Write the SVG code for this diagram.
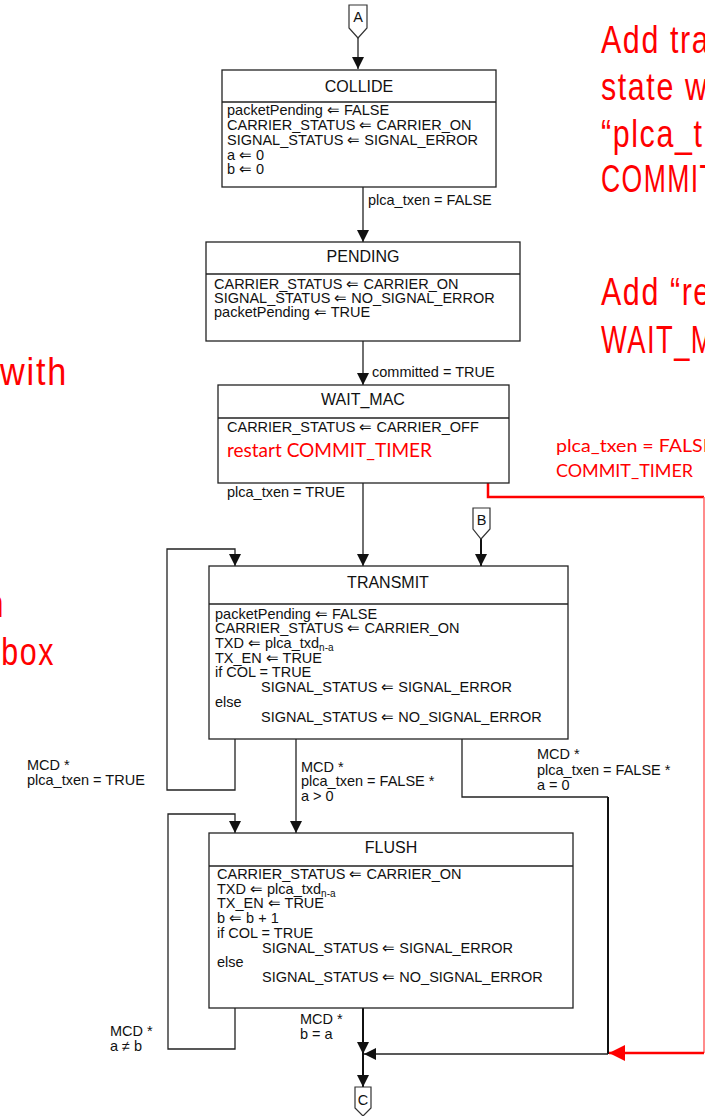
<svg xmlns="http://www.w3.org/2000/svg" width="705" height="1116" viewBox="0 0 705 1116">
<style>
.box{fill:#fff;stroke:#222;stroke-width:1.3}
.div{stroke:#222;stroke-width:1.3}
.t{font-family:"Liberation Sans",Arial,sans-serif;font-size:14.5px;fill:#111}
.ti{font-family:"Liberation Sans",Arial,sans-serif;font-size:16px;fill:#111;text-anchor:middle}
.ln{fill:none;stroke:#222;stroke-width:1.3}
.thk{fill:none;stroke:#111;stroke-width:2}
.red{fill:none;stroke:#f00;stroke-width:2.5}
.rt{font-family:Lato,"Open Sans",sans-serif;fill:#f00}
.big{font-family:"Liberation Sans",Arial,sans-serif;font-size:38px;fill:#f00;letter-spacing:2px}
.conn{fill:#fff;stroke:#333;stroke-width:1.2}
.sub{font-size:10px}
</style>
<defs>
<marker id="arr" viewBox="0 0 12 12" refX="12" refY="6" markerWidth="12" markerHeight="12" markerUnits="userSpaceOnUse" orient="auto"><path d="M0,0 L12,6 L0,12 z" fill="#111"/></marker>
<marker id="rarr" viewBox="0 0 16 16" refX="16" refY="8" markerWidth="16" markerHeight="16" markerUnits="userSpaceOnUse" orient="auto"><path d="M0,0 L16,8 L0,16 z" fill="#f00"/></marker>
</defs>

<g id="connectors">
<path class="ln" d="M358,38 V69" marker-end="url(#arr)"/>
<path class="ln" d="M363,187 V242" marker-end="url(#arr)"/>
<path class="ln" d="M363,341 V385" marker-end="url(#arr)"/>
<path class="ln" d="M363,483 V566" marker-end="url(#arr)"/>
<path class="thk" d="M481,539 V566" marker-end="url(#arr)"/>
<path class="ln" d="M235,738 V790 H167 V549 H235 V566" marker-end="url(#arr)"/>
<path class="ln" d="M296,738 V833" marker-end="url(#arr)"/>
<path class="ln" d="M462,738 V797 H608"/>
<path class="thk" d="M608,797 V1054"/>
<path class="ln" d="M608,1054 H364" marker-end="url(#arr)"/>
<path class="ln" d="M235,1008 V1049 H168 V814 H235 V833" marker-end="url(#arr)"/>
<path class="thk" d="M363,1008 V1054" marker-end="url(#arr)"/>
<path class="thk" d="M363,1054 V1087" marker-end="url(#arr)"/>
<path class="red" d="M488,483 V497 H704"/>
<path fill="none" stroke="#f66" stroke-width="1.5" d="M704,497 V1053"/>
<path class="red" d="M704,1053 H609" marker-end="url(#rarr)"/>
</g>

<g id="labels">
<text class="t" x="368" y="205">plca_txen = FALSE</text>
<text class="t" x="372" y="377">committed = TRUE</text>
<text class="t" x="227" y="497">plca_txen = TRUE</text>
<text class="t" x="27" y="770">MCD *</text>
<text class="t" x="27" y="785">plca_txen = TRUE</text>
<text class="t" x="301" y="772">MCD *</text>
<text class="t" x="301" y="786">plca_txen = FALSE *</text>
<text class="t" x="301" y="801">a &gt; 0</text>
<text class="t" x="537" y="759">MCD *</text>
<text class="t" x="537" y="775">plca_txen = FALSE *</text>
<text class="t" x="537" y="790">a = 0</text>
<text class="t" x="110" y="1036">MCD *</text>
<text class="t" x="110" y="1051">a ≠ b</text>
<text class="t" x="300" y="1024">MCD *</text>
<text class="t" x="300" y="1039">b = a</text>
<text class="rt" x="556" y="452" font-size="17" textLength="158" lengthAdjust="spacingAndGlyphs">plca_txen = FALSE</text>
<text class="rt" x="556" y="477" font-size="17" textLength="137" lengthAdjust="spacingAndGlyphs">COMMIT_TIMER</text>
</g>

<g id="connA">
<path class="conn" d="M349,5 H367 V28 L358,38 L349,28 Z"/>
<text class="t" x="358" y="22" text-anchor="middle">A</text>
</g>
<g id="connB">
<path class="conn" d="M473,508 H490 V529 L481,539 L473,529 Z"/>
<text class="t" x="481.5" y="525" text-anchor="middle">B</text>
</g>
<g id="connC">
<path class="conn" d="M355,1087 H371 V1108 L363,1116 L355,1108 Z"/>
<text class="t" x="363" y="1105" text-anchor="middle">C</text>
</g>

<g id="COLLIDE">
<rect class="box" x="222" y="70" width="274" height="117"/>
<line class="div" x1="222" y1="102" x2="496" y2="102"/>
<text class="ti" x="359" y="92">COLLIDE</text>
<text class="t" x="227" y="115">packetPending ⇐ FALSE</text>
<text class="t" x="227" y="130">CARRIER_STATUS ⇐ CARRIER_ON</text>
<text class="t" x="227" y="145">SIGNAL_STATUS ⇐ SIGNAL_ERROR</text>
<text class="t" x="227" y="160">a ⇐ 0</text>
<text class="t" x="227" y="174">b ⇐ 0</text>
</g>

<g id="PENDING">
<rect class="box" x="206" y="242" width="314" height="99"/>
<line class="div" x1="206" y1="274" x2="520" y2="274"/>
<text class="ti" x="363" y="262">PENDING</text>
<text class="t" x="214" y="289">CARRIER_STATUS ⇐ CARRIER_ON</text>
<text class="t" x="214" y="303">SIGNAL_STATUS ⇐ NO_SIGNAL_ERROR</text>
<text class="t" x="214" y="317">packetPending ⇐ TRUE</text>
</g>

<g id="WAIT_MAC">
<rect class="box" x="218" y="385" width="291" height="98"/>
<line class="div" x1="218" y1="418" x2="509" y2="418"/>
<text class="ti" x="363" y="405">WAIT_MAC</text>
<text class="t" x="227" y="432">CARRIER_STATUS ⇐ CARRIER_OFF</text>
<text class="rt" x="227" y="457" font-size="19" textLength="205" lengthAdjust="spacingAndGlyphs">restart COMMIT_TIMER</text>
</g>

<g id="TRANSMIT">
<rect class="box" x="209" y="566" width="359" height="173"/>
<line class="div" x1="209" y1="604" x2="568" y2="604"/>
<text class="ti" x="388" y="588">TRANSMIT</text>
<text class="t" x="215" y="619">packetPending ⇐ FALSE</text>
<text class="t" x="215" y="633">CARRIER_STATUS ⇐ CARRIER_ON</text>
<text class="t" x="215" y="648">TXD ⇐ plca_txd<tspan class="sub" dy="3">n-a</tspan></text>
<text class="t" x="215" y="663">TX_EN ⇐ TRUE</text>
<text class="t" x="215" y="677">if COL = TRUE</text>
<text class="t" x="261" y="692">SIGNAL_STATUS ⇐ SIGNAL_ERROR</text>
<text class="t" x="215" y="707">else</text>
<text class="t" x="261" y="722">SIGNAL_STATUS ⇐ NO_SIGNAL_ERROR</text>
</g>

<g id="FLUSH">
<rect class="box" x="209" y="833" width="364" height="175"/>
<line class="div" x1="209" y1="866" x2="573" y2="866"/>
<text class="ti" x="391" y="853">FLUSH</text>
<text class="t" x="217" y="879">CARRIER_STATUS ⇐ CARRIER_ON</text>
<text class="t" x="217" y="894">TXD ⇐ plca_txd<tspan class="sub" dy="3">n-a</tspan></text>
<text class="t" x="217" y="908">TX_EN ⇐ TRUE</text>
<text class="t" x="217" y="923">b ⇐ b + 1</text>
<text class="t" x="217" y="938">if COL = TRUE</text>
<text class="t" x="262" y="953">SIGNAL_STATUS ⇐ SIGNAL_ERROR</text>
<text class="t" x="217" y="967">else</text>
<text class="t" x="262" y="982">SIGNAL_STATUS ⇐ NO_SIGNAL_ERROR</text>
</g>

<g id="notes">
<text class="big" transform="translate(601 53) scale(0.8 1)">Add tra</text>
<text class="big" transform="translate(601 100) scale(0.8 1)">state w</text>
<text class="big" transform="translate(601 147) scale(0.8 1)">“plca_t</text>
<text class="big" transform="translate(601 192) scale(0.7 1)">COMMIT</text>
<text class="big" transform="translate(601 305) scale(0.8 1)">Add “re</text>
<text class="big" transform="translate(601 353) scale(0.72 1)">WAIT_M</text>
<text class="big" transform="translate(68 385) scale(0.9 1)" text-anchor="end">with</text>
<text class="big" transform="translate(5 617) scale(0.8 1)" text-anchor="end">n</text>
<text class="big" transform="translate(55 665) scale(0.8 1)" text-anchor="end">box</text>
</g>
</svg>
